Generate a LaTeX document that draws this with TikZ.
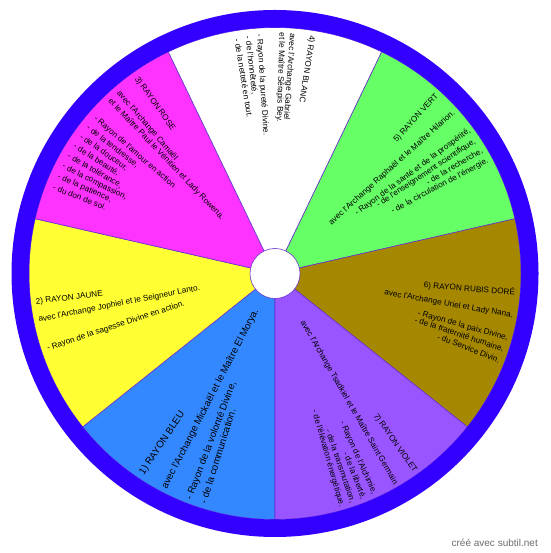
\documentclass[tikz,border=0pt]{standalone}
\usepackage{fontspec}
\setmainfont{Liberation Sans}[Ligatures=TeXOff]
\definecolor{ringc}{RGB}{51,0,255}
\definecolor{bord}{RGB}{102,51,204}
\definecolor{cbleu}{RGB}{51,136,255}
\definecolor{cjaune}{RGB}{255,255,51}
\definecolor{crose}{RGB}{255,51,255}
\definecolor{cvert}{RGB}{102,255,102}
\definecolor{cdore}{RGB}{166,136,0}
\definecolor{cviolet}{RGB}{153,85,255}
\definecolor{credit}{RGB}{110,110,110}
\begin{document}
\begin{tikzpicture}[x=1pt,y=1pt,
  every node/.style={inner sep=0pt, font=\fontsize{8.2}{10}\selectfont},
  lt/.style={anchor=west},
  rt/.style={anchor=east},
  big/.style={font=\fontsize{9.8}{12}\selectfont},
  sector/.style={draw=bord, line width=0.6pt}]
\fill[white] (0,0) rectangle (550,553);
\useasboundingbox (0,0) rectangle (550,553);
\begin{scope}[shift={(275,279.5)}]
  % sectors
  \filldraw[sector, fill=cbleu]   (0,0) -- (218.57:246) arc[start angle=218.57, end angle=270, radius=246] -- cycle;
  \filldraw[sector, fill=cjaune]  (0,0) -- (167.14:246) arc[start angle=167.14, end angle=218.57, radius=246] -- cycle;
  \filldraw[sector, fill=crose]   (0,0) -- (115.71:246) arc[start angle=115.71, end angle=167.14, radius=246] -- cycle;
  \filldraw[sector, fill=white]   (0,0) -- (64.29:246) arc[start angle=64.29, end angle=115.71, radius=246] -- cycle;
  \filldraw[sector, fill=cvert]   (0,0) -- (12.86:246) arc[start angle=12.86, end angle=64.29, radius=246] -- cycle;
  \filldraw[sector, fill=cdore]   (0,0) -- (-38.57:246) arc[start angle=-38.57, end angle=12.86, radius=246] -- cycle;
  \filldraw[sector, fill=cviolet] (0,0) -- (-90:246) arc[start angle=-90, end angle=-38.57, radius=246] -- cycle;
  % ring
  \fill[ringc, even odd rule] (0,0) circle[radius=263.5] (0,0) circle[radius=246];
  % centre
  \filldraw[fill=white, draw=bord, line width=0.6pt] (0,0) circle[radius=25];

  % 1) BLEU
  \node[lt, big, rotate=236.4+180] (b1) at (236.4:241) {1) RAYON BLEU};
  \node[lt, big, rotate=242.8+180] (b2) at (242.8:242) {avec l'Archange Mickaël et le Maître El Morya.};
  \node[lt, big, rotate=249.2+180] (b3) at (249.2:242) {- Rayon de la volonté Divine,};
  \node[lt, big, rotate=252.6+180] (b4) at (252.6:241) {- de la communication.};

  % 2) JAUNE
  \node[lt, rotate=186.8+180] (j1) at (186.8:241) {2) RAYON JAUNE};
  \node[lt, rotate=191.1+180] (j2) at (191.1:241) {avec l'Archange Jophiel et le Seigneur Lanto.};
  \node[lt, rotate=198.3+180] (j3) at (198.3:240) {- Rayon de la sagesse Divine en action.};

  % 3) ROSE
  \node[lt, rotate=125.3+180] (r1) at (125.3:240) {3) RAYON ROSE};
  \node[lt, rotate=130.86+180] (r2) at (130.86:240) {avec l'Archange Camaël};
  \node[lt, rotate=133.64+180] (r3) at (133.64:240) {et le Maître Paul le Vénitien et Lady Rowena.};
  \node[lt, rotate=139.2+180] (r4) at (139.2:238) {- Rayon de l'amour en action};
  \node[lt, rotate=141.98+180] (r5) at (141.98:238) {- de la tendresse,};
  \node[lt, rotate=144.76+180] (r6) at (144.76:238) {- de la douceur,};
  \node[lt, rotate=147.54+180] (r7) at (147.54:238) {- de la beauté,};
  \node[lt, rotate=150.32+180] (r8) at (150.32:238) {- de la tolérance,};
  \node[lt, rotate=153.1+180] (r9) at (153.1:238) {- de la compassion,};
  \node[lt, rotate=155.88+180] (r10) at (155.88:238) {- de la patience,};
  \node[lt, rotate=158.66+180] (r11) at (158.66:238) {- du don de soi.};

  % 4) BLANC
  \node[lt, rotate=81.2+180] (w1) at (81.2:241) {4) RAYON BLANC};
  \node[lt, rotate=85.9+180] (w2) at (85.9:241) {avec l'Archange Gabriel};
  \node[lt, rotate=88.4+180] (w3) at (88.4:241) {et le Maître Sérapis Bey.};
  \node[lt, rotate=93.8+180] (w4) at (93.8:240) {- Rayon de la pureté Divine.};
  \node[lt, rotate=96.5+180] (w5) at (96.5:239) {- de l'honnêteté,};
  \node[lt, rotate=99.1+180] (w6) at (99.1:238) {- de la netteté en tout.};

  % 5) VERT
  \node[rt, rotate=47.7] (v1) at (47.7:241) {5) RAYON VERT};
  \node[rt, rotate=42.04] (v2) at (42.04:241) {avec l'Archange Raphaël et le Maître Hilarion.};
  \node[rt, rotate=36.38] (v3) at (36.38:242) {- Rayon de la santé et de la prospérité,};
  \node[rt, rotate=33.55] (v4) at (33.55:240) {- de l'enseignement scientifique,};
  \node[rt, rotate=30.72] (v5) at (30.72:241) {- de la recherche,};
  \node[rt, rotate=27.89] (v6) at (27.89:241) {- de la circulation de l'énergie.};

  % 6) RUBIS DORE
  \node[rt, rotate=-4.5] (d1) at (-4.5:241) {6) RAYON RUBIS DORÉ};
  \node[rt, rotate=-10.04] (d2) at (-10.04:242) {avec l'Archange Uriel et Lady Nana.};
  \node[rt, rotate=-15.58] (d3) at (-15.58:242) {- Rayon de la paix Divine,};
  \node[rt, rotate=-18.35] (d4) at (-18.35:241) {- de la fraternité humaine,};
  \node[rt, rotate=-21.12] (d5) at (-21.12:241) {- du Service Divin.};

  % 7) VIOLET
  \node[rt, rotate=-54.7] (p1) at (-54.7:243) {7) RAYON VIOLET};
  \node[rt, rotate=-60.22] (p2) at (-60.22:243) {avec l'Archange Tsadkiel et le Maître Saint Germain};
  \node[rt, rotate=-65.74] (p3) at (-65.74:242) {- Rayon de l'Alchimie,};
  \node[rt, rotate=-68.5] (p4) at (-68.5:242) {- de la liberté,};
  \node[rt, rotate=-71.26] (p5) at (-71.26:242) {- de la transmutation,};
  \node[rt, rotate=-74.02] (p6) at (-74.02:243) {- de l'élévation énergétique.};
\end{scope}
\node[anchor=east, text=credit, font=\fontsize{10}{12}\selectfont] (credit) at (538,10) {créé avec subtil.net};
\end{tikzpicture}
\end{document}
